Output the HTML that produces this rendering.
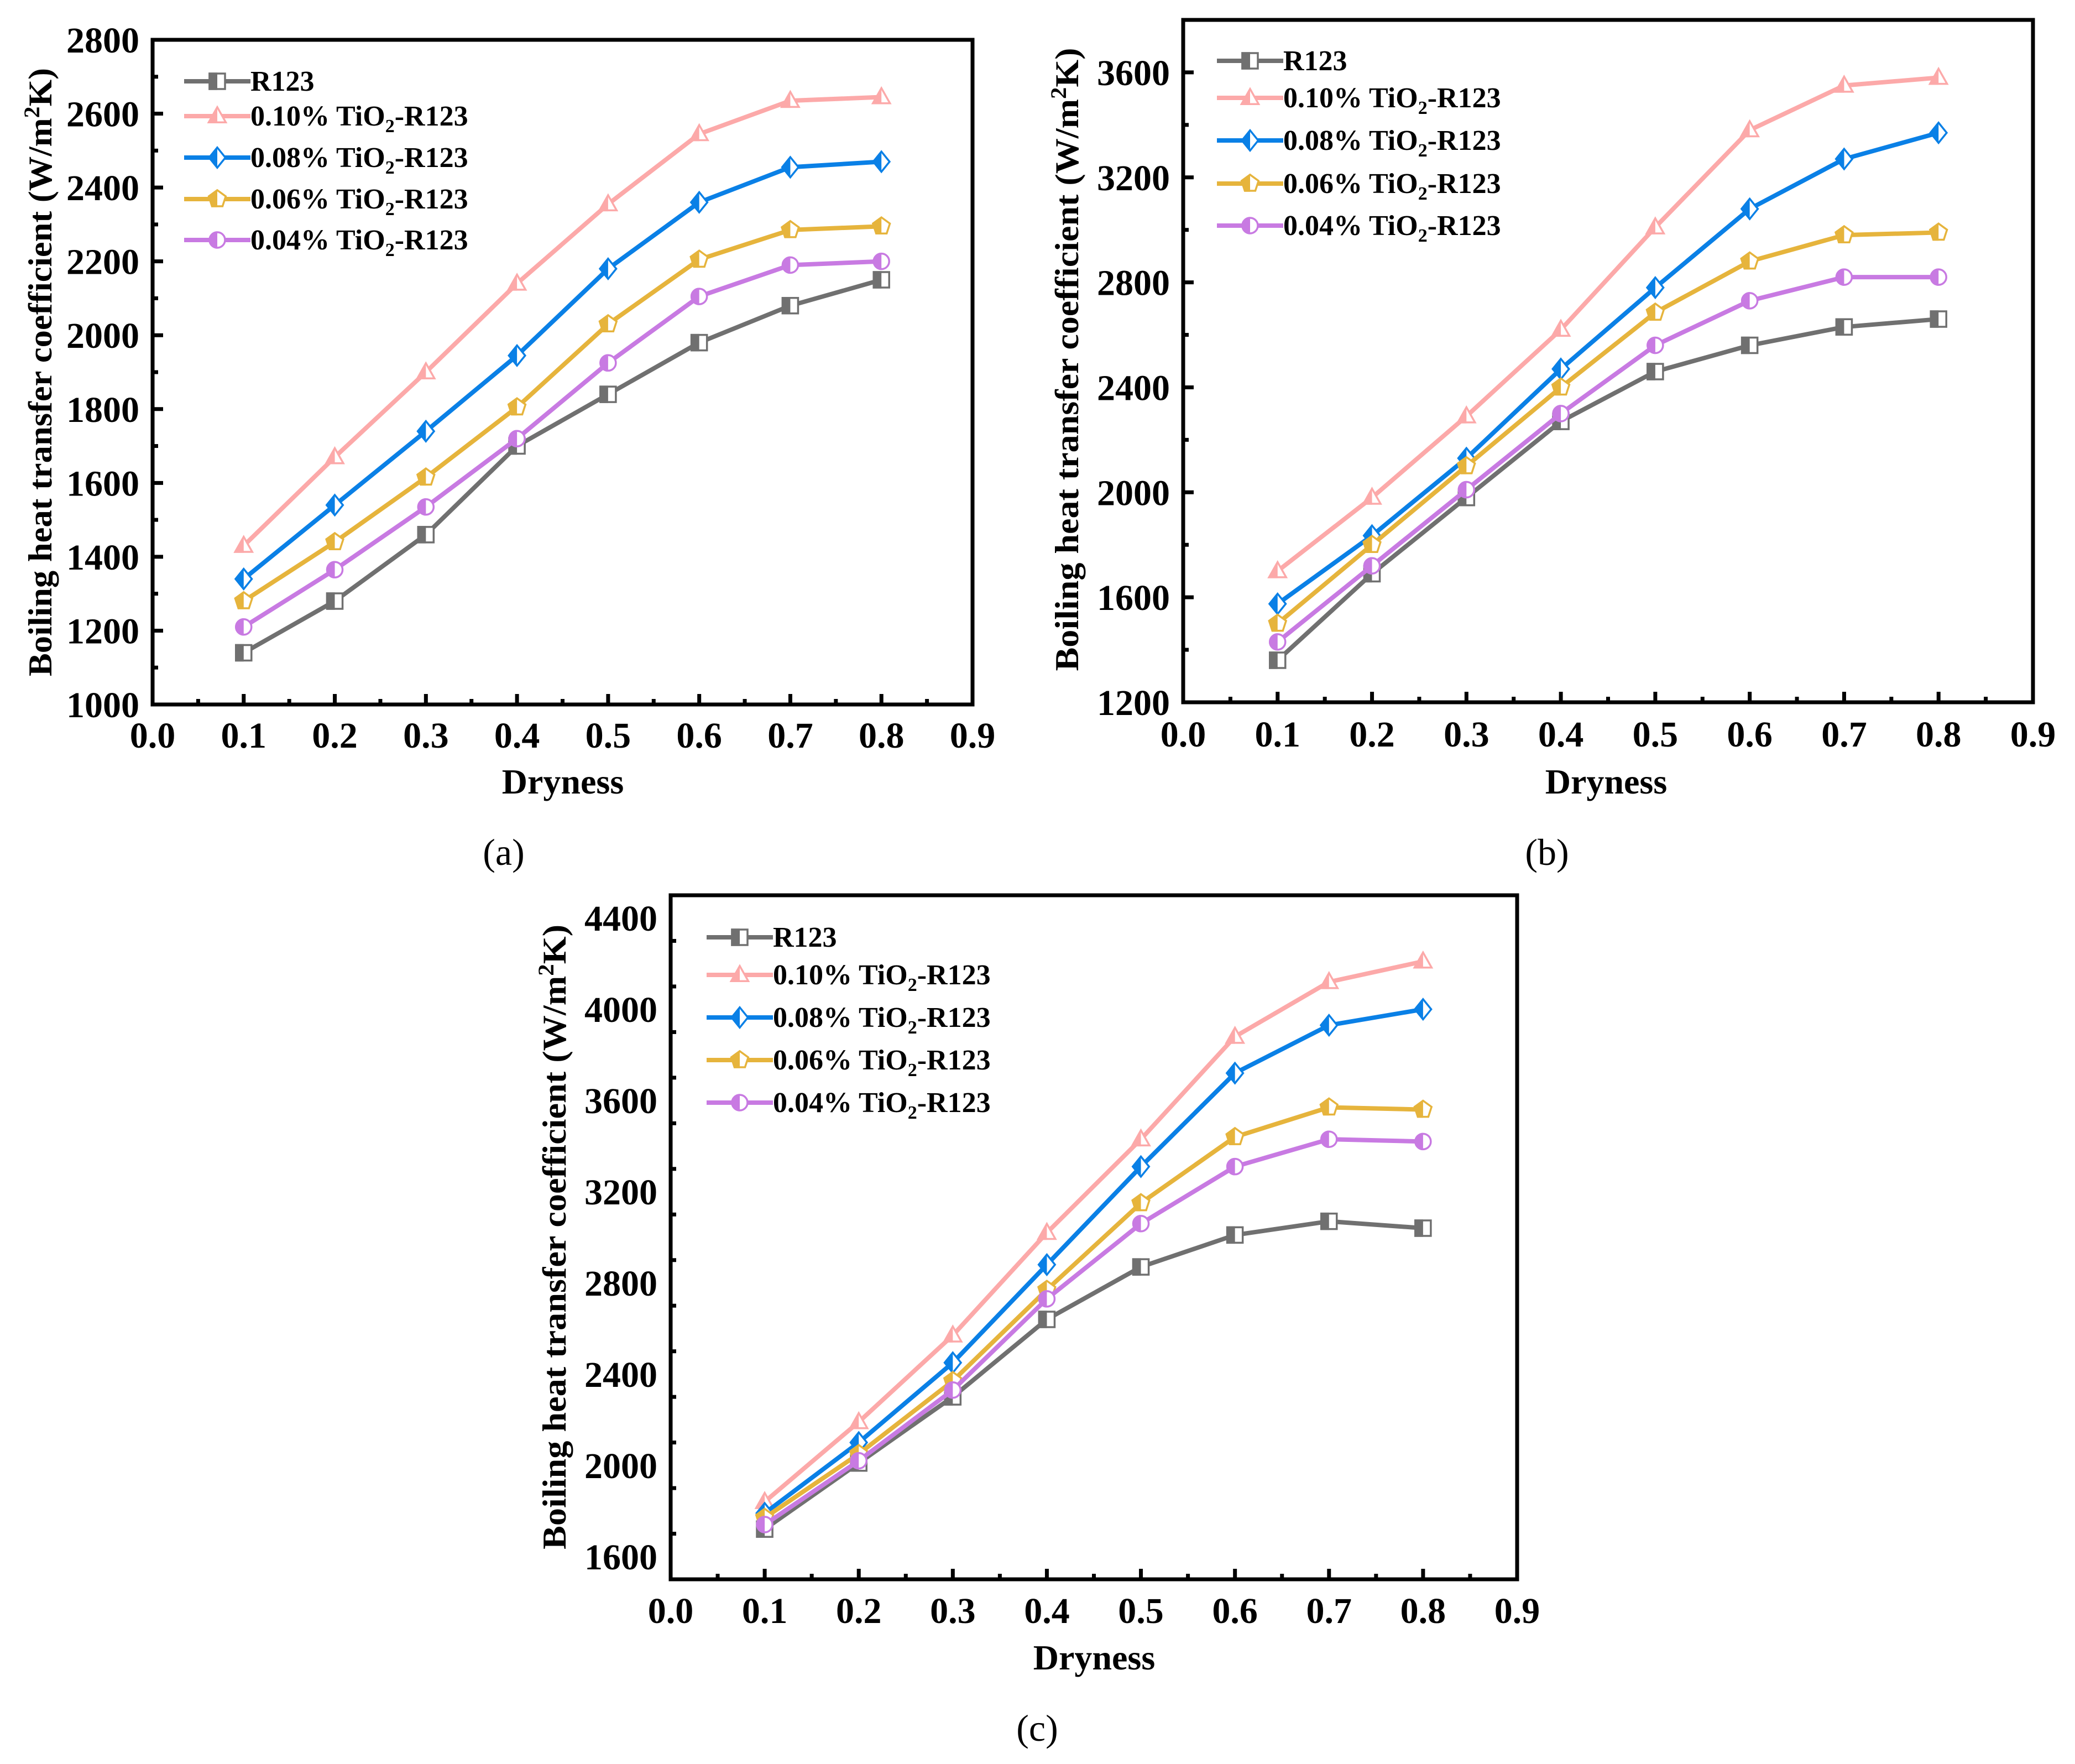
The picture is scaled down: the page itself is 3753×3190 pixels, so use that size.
<!DOCTYPE html>
<html><head><meta charset="utf-8"><style>
html,body{margin:0;padding:0;background:#fff}
svg{display:block}
text{font-family:"Liberation Serif",serif}
</style></head><body>
<svg id="fig" width="3753" height="3190" viewBox="0 0 3753 3190" xmlns="http://www.w3.org/2000/svg" font-family="Liberation Serif, serif">
<rect width="3753" height="3190" fill="#fff"/>
</svg>
<script>
// shared x categories
const dryness = [0.1,0.2,0.3,0.4,0.5,0.6,0.7,0.8];
const xTickLabels = ['0.0','0.1','0.2','0.3','0.4','0.5','0.6','0.7','0.8','0.9'];
const seriesNames = ['R123','0.10%','0.08%','0.06%','0.04%'];
// panel (a)
const aR123 = [1140,1280,1460,1700,1840,1980,2080,2150];
const aT10 = [1430,1670,1900,2140,2355,2545,2635,2645];
const aT08 = [1340,1540,1740,1945,2180,2360,2455,2470];
const aT06 = [1280,1440,1615,1805,2030,2205,2285,2295];
const aT04 = [1210,1365,1535,1720,1925,2105,2190,2200];
const aYTicks = [1000,1200,1400,1600,1800,2000,2200,2400,2600,2800];
// panel (b)
const bR123 = [1360,1690,1980,2270,2460,2560,2630,2660];
const bT10 = [1700,1980,2290,2620,3010,3380,3550,3580];
const bT08 = [1575,1835,2130,2470,2780,3080,3270,3370];
const bT06 = [1500,1800,2100,2400,2685,2880,2980,2990];
const bT04 = [1430,1720,2010,2300,2560,2730,2820,2820];
const bYTicks = [1200,1600,2000,2400,2800,3200,3600];
// panel (c)
const cR123 = [1720,2010,2300,2640,2870,3010,3070,3040];
const cT10 = [1840,2190,2570,3020,3430,3880,4120,4210];
const cT08 = [1790,2100,2450,2880,3310,3720,3930,4000];
const cT06 = [1770,2050,2370,2770,3150,3440,3570,3560];
const cT04 = [1740,2020,2330,2730,3060,3310,3430,3420];
const cYTicks = [1600,2000,2400,2800,3200,3600,4000,4400];

const NS='http://www.w3.org/2000/svg';
const svg=document.getElementById('fig');
const colors=['#707070','#fca9a9','#0a80e6','#e6b43c','#c87ae2'];
const shapes=['square','triangle','diamond','pentagon','circle'];
const FF='Liberation Serif, serif';
function el(tag,attrs,parent){const e=document.createElementNS(NS,tag);for(const k in attrs)e.setAttribute(k,attrs[k]);(parent||svg).appendChild(e);return e;}
let clipId=0;
function shapePath(s,cx,cy,r){
  if(s==='square')return `M${cx-r} ${cy-r}H${cx+r}V${cy+r}H${cx-r}Z`;
  if(s==='triangle')return `M${cx} ${cy-r*1.15}L${cx+r*1.1} ${cy+r*0.8}L${cx-r*1.1} ${cy+r*0.8}Z`;
  if(s==='diamond')return `M${cx} ${cy-r*1.3}L${cx+r*1.05} ${cy}L${cx} ${cy+r*1.3}L${cx-r*1.05} ${cy}Z`;
  if(s==='pentagon'){let p='';for(let i=0;i<5;i++){const a=-Math.PI/2+i*2*Math.PI/5;p+=(i?'L':'M')+(cx+r*1.15*Math.cos(a))+' '+(cy+r*1.15*Math.sin(a));}return p+'Z';}
  return `M${cx-r} ${cy}A${r} ${r} 0 1 0 ${cx+r} ${cy}A${r} ${r} 0 1 0 ${cx-r} ${cy}Z`;
}
function marker(g,s,cx,cy,col,name){
  const r=14;
  const m=el('g',{},g);
  
  
  const id='hc'+(clipId++);
  const cp=el('clipPath',{id:id},m);
  el('rect',{x:cx-40,y:cy-40,width:40,height:80},cp);
  el('path',{d:shapePath(s,cx,cy,r),fill:'#fff',stroke:col,'stroke-width':3.5},m);
  el('path',{d:shapePath(s,cx,cy,r),fill:col,stroke:col,'stroke-width':3.5,'clip-path':`url(#${id})`},m);
}
function panel(cfg){
  const g=el('g',{});
  
  
  const {L,R,T,B,ymin,ymax}=cfg;
  const xs=v=>L+(v-0)/(0.9)*(R-L);
  const ys=v=>B-(v-ymin)/(ymax-ymin)*(B-T);
  for(let i=0;i<=18;i++){const v=i*0.05;const x=xs(v);const len=(i%2===0)?19:10;
    if(i>0&&i<18){const t=el('line',{x1:x,x2:x,y1:B,y2:B-len,stroke:'#000','stroke-width':7},g);}}
  xTickLabels.forEach((lab,i)=>{const t=el('text',{x:xs(i*0.1),y:cfg.xLabY+23,'font-size':66,'font-weight':'bold','text-anchor':'middle','font-family':FF},g);t.textContent=lab;
    });
  const step=cfg.yTicks[1]-cfg.yTicks[0];
  for(let v=ymin;v<ymax;v+=step/2){
    if(v<=ymin)continue;const y=ys(v);const major=cfg.yTicks.indexOf(v)>=0;
    const t=el('line',{x1:L,x2:L+(major?19:10),y1:y,y2:y,stroke:'#000','stroke-width':7},g);
    }
  cfg.yTicks.forEach(v=>{const t=el('text',{x:L-24,y:ys(v)+23,'font-size':66,'font-weight':'bold','text-anchor':'end','font-family':FF},g);t.textContent=String(v);
    });
  cfg.series.forEach((vals,si)=>{
    const sg=el('g',{},g);
    
    
    const pts=vals.map((v,i)=>xs(dryness[i])+','+ys(v)).join(' ');
    el('polyline',{points:pts,fill:'none',stroke:colors[si],'stroke-width':8,'stroke-linejoin':'round'},sg);
    vals.forEach((v,i)=>marker(sg,shapes[si],xs(dryness[i]),ys(v),colors[si],'data-point'));
  });
  const f=el('rect',{x:L,y:T,width:R-L,height:B-T,fill:'none',stroke:'#000','stroke-width':7},g);
  
  const lg=el('g',{},g);
  
  
  cfg.legY.forEach((y,si)=>{
    const e=el('g',{},lg);
    
    
    el('line',{x1:cfg.legX,x2:cfg.legX+120,y1:y,y2:y,stroke:colors[si],'stroke-width':8},e);
    marker(e,shapes[si],cfg.legX+60,y,colors[si],'legend-marker');
    const t=el('text',{x:cfg.legX+120,y:y+17,'font-size':52,'font-weight':'bold','font-family':FF},e);
    if(si===0){t.textContent='R123';}
    else{
      const a=el('tspan',{},t);a.textContent=seriesNames[si]+' TiO';
      const b=el('tspan',{dy:12,'font-size':34},t);b.textContent='2';
      const c=el('tspan',{dy:-12},t);c.textContent='-R123';
    }
  });
  const yl=el('text',{transform:`translate(${cfg.yTitleX+20},${cfg.yTitleY}) rotate(-90)`,'font-size':60,'font-weight':'bold','text-anchor':'middle',textLength:cfg.yTitleLen,lengthAdjust:'spacingAndGlyphs','font-family':FF},g);
  
  const y1=el('tspan',{},yl);y1.textContent='Boiling heat transfer coefficient (W/m';
  const y2=el('tspan',{dy:-22,'font-size':40},yl);y2.textContent='2';
  const y3=el('tspan',{dy:22},yl);y3.textContent='K)';
  const xt=el('text',{x:cfg.xTitleX,y:cfg.xTitleY+22,'font-size':64,'font-weight':'bold','text-anchor':'middle','font-family':FF},g);
  xt.textContent='Dryness';
  const cap=el('text',{x:cfg.capX,y:cfg.capY+23,'font-size':68,'text-anchor':'middle','font-family':FF},g);
  cap.textContent='('+cfg.tag+')';
}
panel({tag:'a',L:276,R:1759,T:72,B:1274,ymin:1000,ymax:2800,yTicks:aYTicks,series:[aR123,aT10,aT08,aT06,aT04],
  legX:333,legY:[147,210,285,360,434],xLabY:1329,yTitleX:73,yTitleY:673,yTitleLen:1100,xTitleX:1018,xTitleY:1413,capX:911,capY:1541});
panel({tag:'b',L:2140,R:3677,T:36,B:1270,ymin:1200,ymax:3800,yTicks:bYTicks,series:[bR123,bT10,bT08,bT06,bT04],
  legX:2201,legY:[110,177,254,332,408],xLabY:1327,yTitleX:1930,yTitleY:650,yTitleLen:1127,xTitleX:2905,xTitleY:1413,capX:2798,capY:1541});
panel({tag:'c',L:1213,R:2744,T:1619,B:2856,ymin:1500,ymax:4500,yTicks:cYTicks,series:[cR123,cT10,cT08,cT06,cT04],
  legX:1278,legY:[1695,1763,1840,1917,1994],xLabY:2912,yTitleX:1003,yTitleY:2237,yTitleLen:1130,xTitleX:1979,xTitleY:2997,capX:1876,capY:3125});
</script>
</body></html>
